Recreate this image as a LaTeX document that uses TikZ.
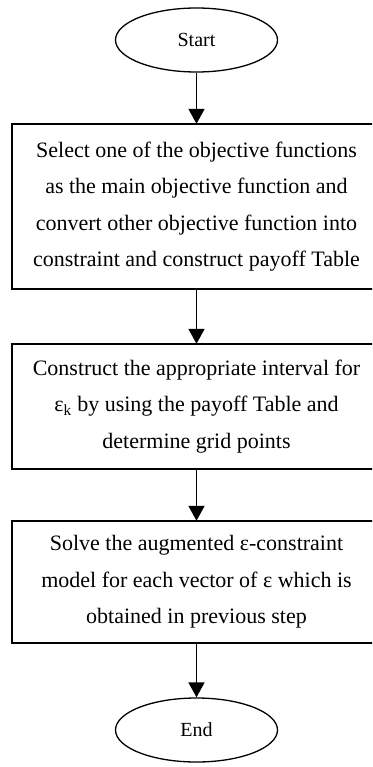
\documentclass[tikz,border=0pt]{standalone}
\usepackage{fontspec}
\setmainfont{Liberation Serif}
\usetikzlibrary{shapes.geometric,arrows.meta}
\begin{document}
\begin{tikzpicture}[x=1pt,y=-1pt,
  term/.style={ellipse,draw,line width=1.3pt,minimum width=162pt,minimum height=64pt,inner sep=0pt,font=\fontsize{20}{24}\selectfont},
  proc/.style={rectangle,minimum width=369pt,inner sep=0pt,align=center,font=\fontsize{22}{36.5}\selectfont},
  boxline/.style={draw,line width=1.6pt},
  arr/.style={line width=1.8pt,-{Triangle[length=15pt,width=16pt]}}]
\useasboundingbox (0,0) rectangle (372,767);
\clip (0,0) rectangle (372,767);
\node[term] (start) at (196.5,40) {Start};
\node[proc,minimum height=165pt] (b1) at (196.5,206.5) {Select one of the objective functions\\as the main objective function and\\convert other objective function into\\constraint and construct payoff Table};
\node[proc,minimum height=125pt] (b2) at (196.5,406.5) {Construct the appropriate interval for\\ε\textsubscript{k} by using the payoff Table and\\determine grid points};
\node[proc,minimum height=122pt] (b3) at (196.5,582) {Solve the augmented ε-constraint\\model for each vector of ε which is\\obtained in previous step};
\node[term] (end) at (196.5,730) {End};
\draw[boxline] (b1.north west) rectangle ([xshift=20pt]b1.south east);
\draw[boxline] (b2.north west) rectangle ([xshift=20pt]b2.south east);
\draw[boxline] (b3.north west) rectangle ([xshift=20pt]b3.south east);
\draw[arr] (start) -- (b1);
\draw[arr] (b1) -- (b2);
\draw[arr] (b2) -- (b3);
\draw[arr] (b3) -- (end);
\end{tikzpicture}
\end{document}
